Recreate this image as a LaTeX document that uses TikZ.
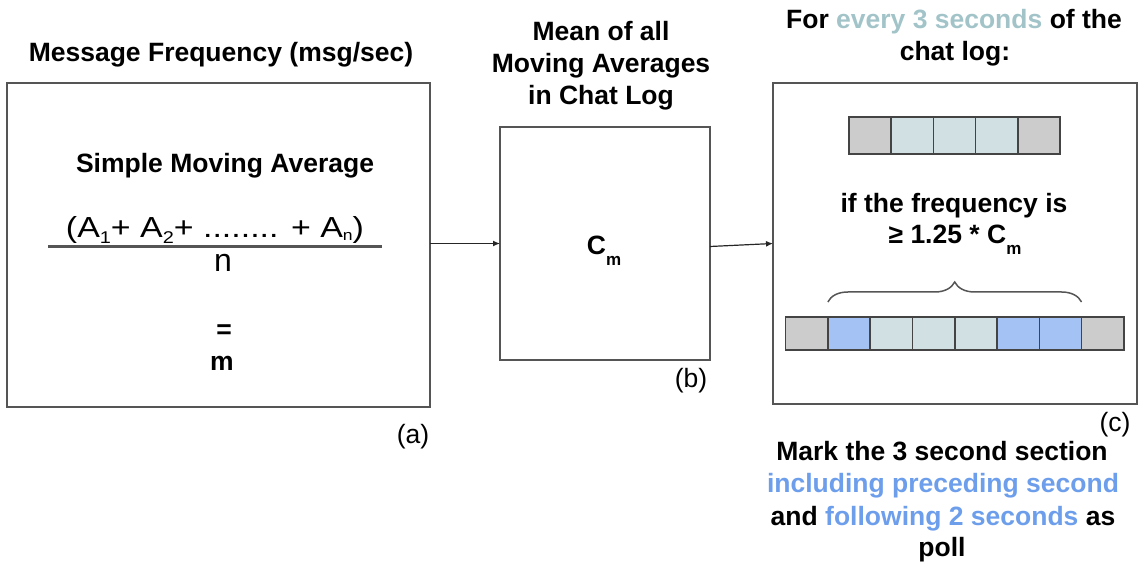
\documentclass[tikz,border=0pt]{standalone}
\usepackage{fontspec}
\setmainfont{Liberation Sans}
\usetikzlibrary{arrows.meta,decorations.pathreplacing}
\definecolor{edge}{HTML}{555555}
\definecolor{cellgray}{HTML}{CCCCCC}
\definecolor{celllight}{HTML}{D0E0E3}
\definecolor{cellblue}{HTML}{A4C2F4}
\definecolor{txtteal}{HTML}{A2C4C9}
\definecolor{txtblue}{HTML}{6D9EEB}
% lowered small text: #1 drop (pt), #2 size (pt), #3 content
\newcommand\lsub[3]{\raisebox{-#1pt}{\fontsize{#2}{#2}\selectfont #3}}
\tikzset{
  panel/.style={draw=edge, line width=2pt, rectangle, inner sep=0pt, outer sep=0pt},
  cell/.style={draw=edge!80!black, line width=1.5pt, rectangle, inner sep=0pt, outer sep=0pt,
               minimum width=42.2pt},
  head/.style={anchor=base, inner sep=0pt, font=\fontsize{26.5}{32}\selectfont\bfseries},
  plain/.style={anchor=base, inner sep=0pt, font=\fontsize{26.5}{32}\selectfont},
  link/.style={-{Latex[length=7pt,width=6pt]}, line width=1.2pt, black!85},
}
\begin{document}
\begin{tikzpicture}[x=1pt,y=-1pt]
\useasboundingbox (0,0) rectangle (1144,564);

% ---------- panel (a): message frequency ----------
\node[head] (titleA) at (221,62) {Message Frequency (msg/sec)};
\node[panel, minimum width=423pt, minimum height=324pt] (boxA) at (218.5,245) {};
\node[head] (sma) at (225,172.5) {Simple Moving Average};
\node[plain, font=\fontsize{29}{32}\selectfont] (num) at (215,238)
  {\scalebox{1.17}[1]{(A\lsub{6}{17}{1}+ A\lsub{6}{17}{2}+ ........ + A\lsub{3}{15}{n})}};
\coordinate (barL) at (48,247);
\coordinate (barR) at (382,247);
\draw[edge, line width=3pt] (barL) -- (barR);
\node[plain, font=\fontsize{32}{32}\selectfont] (den) at (223,272) {n};
\node[head] (eq) at (224,338) {=};
\node[head] (mval) at (222,370) {m};
\node[plain] (labA) at (413,443) {(a)};

% ---------- panel (b): overall mean ----------
\node[head] (titleB1) at (601,41) {Mean of all};
\node[head] (titleB2) at (601,73) {Moving Averages};
\node[head] (titleB3) at (601,105) {in Chat Log};
\node[panel, minimum width=210pt, minimum height=233pt] (boxB) at (605,243.5) {};
\node[head] (cm) at (604,255) {C\lsub{10}{17}{m}};
\node[plain] (labB) at (691,387) {(b)};

% ---------- panel (c): poll detection ----------
\node[head] (titleC1) at (954,29) {For {\color{txtteal}every 3 seconds} of the};
\node[head] (titleC2) at (955,61) {chat log:};
\node[panel, minimum width=364pt, minimum height=321pt] (boxC) at (955,243.5) {};

% three-second window with its neighbours
\foreach \i/\c in {0/cellgray,1/celllight,2/celllight,3/celllight,4/cellgray}
  \node[cell, fill=\c, minimum height=37pt] (top\i) at ({849+21.1+42.2*\i},135.5) {};

\node[head] (cond1) at (954,213) {if the frequency is};
\node[head] (cond2) at (955,244) {≥ 1.25 * C\lsub{10}{17}{m}};

% extended window marked as poll
\foreach \i/\c in {0/cellgray,1/cellblue,2/celllight,3/celllight,4/celllight,5/cellblue,6/cellblue,7/cellgray}
  \node[cell, fill=\c, minimum height=33pt] (bot\i) at ({785.5+21.15+42.3*\i},333.5) {};

\draw[edge, line width=1.5pt, decorate, decoration={brace, amplitude=20pt}]
  (bot1.north west |- 0,302) -- (bot6.north east |- 0,302);

\node[plain] (labC) at (1115,431) {(c)};

\node[head] (noteC1) at (942,460) {Mark the 3 second section};
\node[head] (noteC2) at (943,492) {\color{txtblue}including preceding second};
\node[head] (noteC3) at (943,525) {and {\color{txtblue}following 2 seconds} as};
\node[head] (noteC4) at (942,556) {poll};

% ---------- connectors ----------
\draw[link] (boxA.east |- boxB.west) -- (boxB.west);
\draw[link] ([yshift=-3pt]boxB.east) -- (boxC.west);
\end{tikzpicture}
\end{document}
